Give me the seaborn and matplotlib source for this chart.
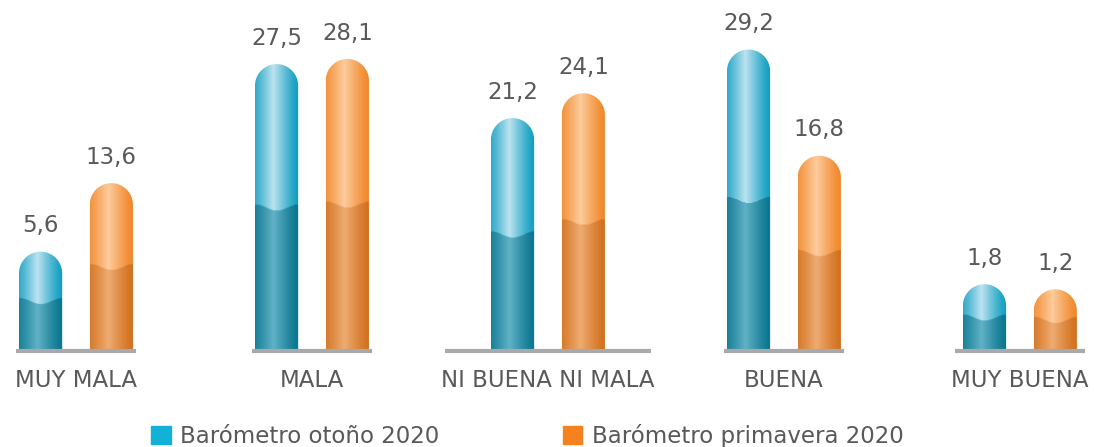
import numpy as np
import pandas as pd
import matplotlib
matplotlib.use("Agg")
import matplotlib.pyplot as plt
import matplotlib.colors as mcolors
import seaborn as sns
from matplotlib.path import Path
from matplotlib.patches import PathPatch, Patch

categorias = ["MUY MALA", "MALA", "NI BUENA NI MALA", "BUENA", "MUY BUENA"]
otono_2020 = [5.6, 27.5, 21.2, 29.2, 1.8]
primavera_2020 = [13.6, 28.1, 24.1, 16.8, 1.2]
series = ["Barómetro otoño 2020", "Barómetro primavera 2020"]

colores = {series[0]: "#12b2d8", series[1]: "#f5821f"}
# (borde, centro) del degradado, parte clara y parte oscura de cada barra
tonos = {
    series[0]: {"claro": ("#149fc2", "#bde3ef"), "oscuro": ("#0a7790", "#62b2c6")},
    series[1]: {"claro": ("#f0882a", "#fdcc9e"), "oscuro": ("#d2711e", "#eeac72")},
}
TEXTO = "#58595b"
LINEA = "#a7a9ac"
BASE = -6.0  # el suelo del grafico original queda por debajo de cero

df = pd.DataFrame({
    "categoria": categorias * 2,
    "valor": otono_2020 + primavera_2020,
    "serie": [series[0]] * len(categorias) + [series[1]] * len(categorias),
})

sns.set_style("white")
plt.rcParams["font.family"] = ["DejaVu Sans"]

fig = plt.figure(figsize=(10.94, 4.47), dpi=100)
ax = fig.add_axes([0, 96 / 447, 1, 334 / 447])
sns.barplot(data=df, x="categoria", y="valor", hue="serie", palette=colores,
            width=0.6, gap=0.39, ax=ax, legend=False)
ax.set_xlim(-0.322, 4.314)
ax.set_ylim(BASE, 33)
sns.despine(ax=ax, left=True, bottom=True)
ax.set_yticks([])
ax.set_xlabel("")
ax.set_ylabel("")
ax.tick_params(axis="x", length=0, pad=13, labelsize=16.5, labelcolor=TEXTO)

fig.canvas.draw()
px_x = ax.transData.transform((1, 0))[0] - ax.transData.transform((0, 0))[0]
px_y = ax.transData.transform((0, 1))[1] - ax.transData.transform((0, 0))[1]


def degradado(borde, centro, n):
    u = np.linspace(0, 1, n)
    f = np.clip(1 - np.abs(u - 0.42) / 0.55, 0, 1) ** 1.2
    b = np.array(mcolors.to_rgb(borde))
    c = np.array(mcolors.to_rgb(centro))
    return b + (c - b) * f[:, None]


for serie, cont in zip(series, ax.containers):
    claro = degradado(*tonos[serie]["claro"], 60)
    oscuro = degradado(*tonos[serie]["oscuro"], 60)
    for barra in cont:
        barra.set_visible(False)
        x0 = barra.get_x()
        x1 = x0 + barra.get_width()
        top = barra.get_height()
        rx = (x1 - x0) / 2
        ry = rx * px_x / px_y
        cx = x0 + rx
        th = np.linspace(np.pi, 0, 40)
        pts = [(x0, BASE), (x0, top - ry)]
        pts += list(zip(cx + rx * np.cos(th), top - ry + ry * np.sin(th)))
        pts += [(x1, BASE), (x0, BASE)]
        forma = PathPatch(Path(pts), transform=ax.transData, fc="none", ec="none")
        ax.add_patch(forma)

        filas = 300
        yy = BASE + (top - BASE) * (np.arange(filas) + 0.5) / filas
        u = np.linspace(0, 1, 60)
        medio = BASE + 0.5 * (top - BASE)
        borde = medio - (3 / px_y) * np.cos(2 * np.pi * (u - 0.5))
        mask = yy[:, None] < borde[None, :]
        img = np.where(mask[:, :, None], oscuro[None, :, :], claro[None, :, :])
        im = ax.imshow(img, extent=[x0, x1, BASE, top], origin="lower",
                       aspect="auto", zorder=2, interpolation="bilinear")
        im.set_clip_path(forma)

        etiqueta = f"{top:.1f}".replace(".", ",")
        ax.annotate(etiqueta, (cx, top), xytext=(0, 14), textcoords="offset points",
                    ha="center", va="baseline", fontsize=16.5, color=TEXTO)

ax.set_xlim(-0.322, 4.314)
ax.set_ylim(BASE, 33)

# linea base bajo cada grupo, al menos tan ancha como su etiqueta
for i, lbl in enumerate(ax.get_xticklabels()):
    ancho = lbl.get_window_extent().width / px_x
    h = max(0.255, ancho / 2 - 4 / px_x)
    ax.plot([i - h, i + h], [BASE, BASE], color=LINEA, lw=3,
            solid_capstyle="butt", clip_on=False, zorder=3)

manijas = [Patch(color=colores[s], label=s) for s in series]
fig.legend(handles=manijas, loc="lower center", ncol=2, frameon=False,
           bbox_to_anchor=(0.482, -0.022), fontsize=16.5, labelcolor=TEXTO,
           handlelength=0.85, handleheight=0.85, handletextpad=0.4,
           columnspacing=5.4, borderaxespad=0)

fig.savefig("out.png", dpi=100)
